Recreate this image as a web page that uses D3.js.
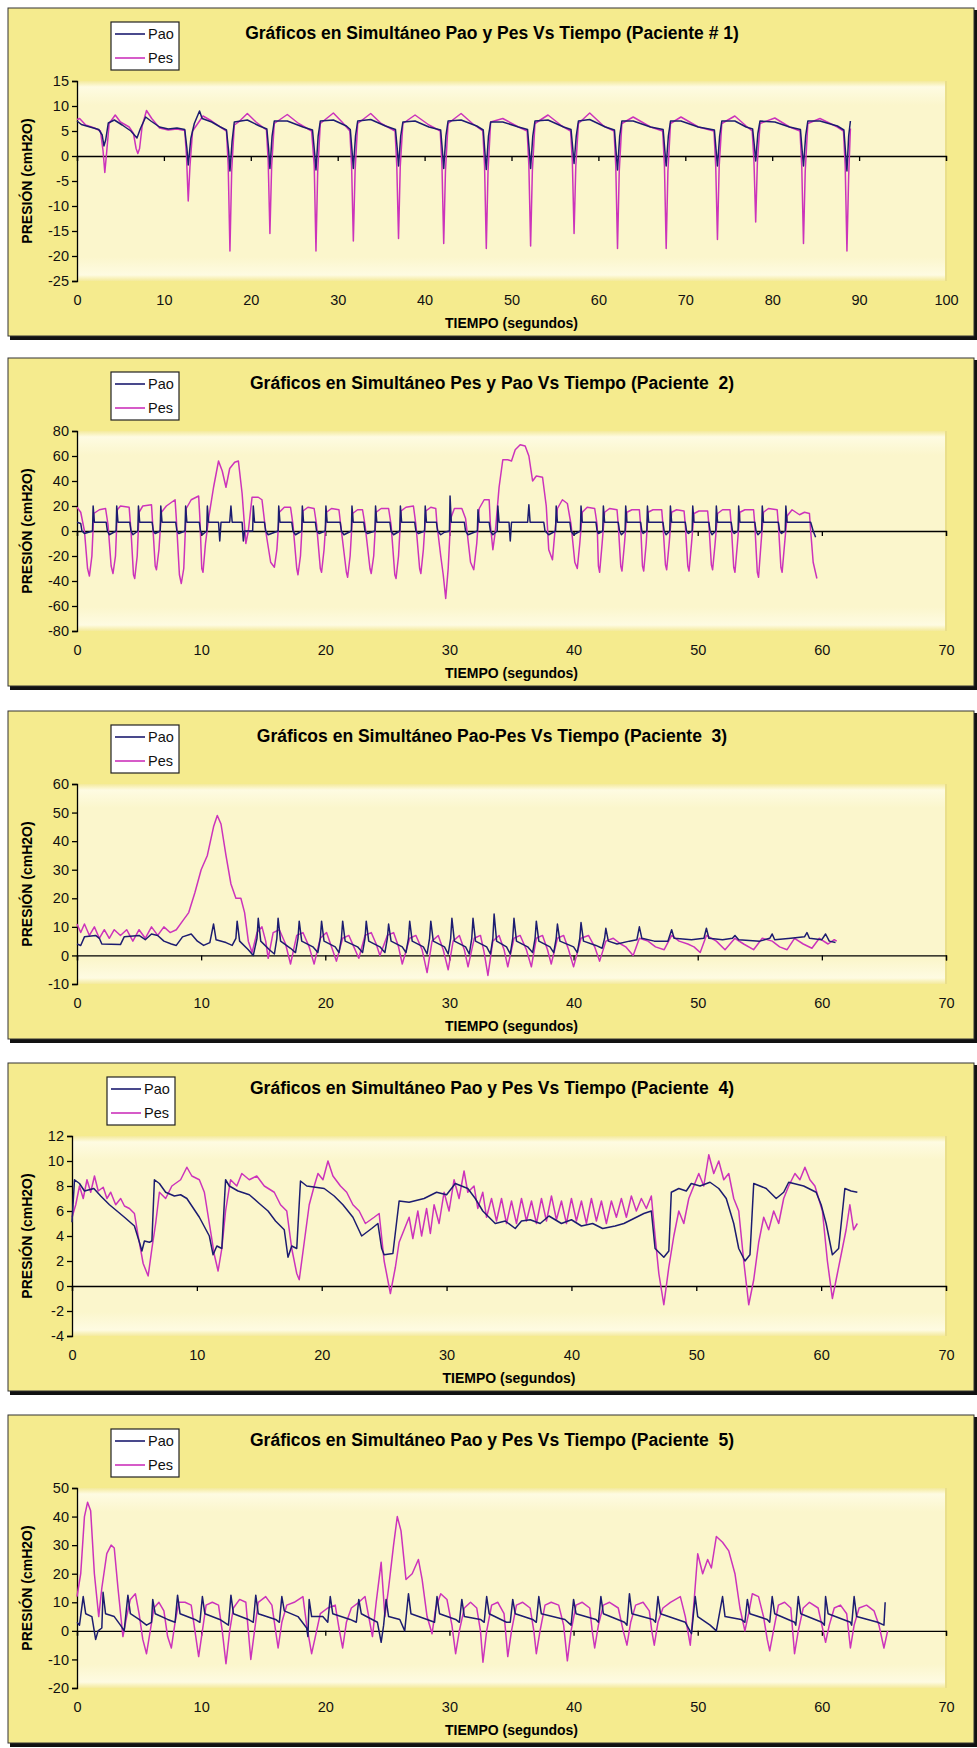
<!DOCTYPE html>
<html>
<head>
<meta charset="utf-8">
<script src="https://cdn.jsdelivr.net/npm/d3@7"></script>
<style>
  body { margin: 0; background: #fff; }
  text { font-family: "Liberation Sans", Arial, sans-serif; }
</style>
</head>
<body>
<div id="content"></div>
<script>
// ---- data: [tiempo (s), presión (cmH2O)] ----
var p1Pao = [[0,7],[0.5,6.3],[1.5,5.8],[2.5,5.3],[2.9,4.2],[3.1,2.0],[3.3,3.2],[3.6,6.6],[4.3,7.2],[5.2,6.2],[6.2,5.0],[6.7,4.0],[6.9,3.6],[7.3,5.5],[7.9,7.8],[8.5,7.0],[9.5,5.8],[10.5,5.4],[11.5,5.6],[12.4,5.3],[12.65,1.5],[12.8,-1.8],[13.1,3.5],[13.5,6.5],[14.1,9.0],[14.4,7.5],[15.5,6.8],[16.5,5.8],[17.2,5.2],[17.45,1.0],[17.6,-3.0],[17.85,3.0],[18.1,6.8],[19.6,7.2],[21.0,6.0],[21.85,5.4],[22.05,1.5],[22.2,-2.5],[22.45,4.0],[22.7,7.0],[24.2,7.0],[26.0,5.8],[27.1,5.2],[27.35,0.5],[27.5,-2.8],[27.75,4.0],[28.0,7.0],[29.5,7.2],[31.0,6.0],[31.45,5.3],[31.65,1.0],[31.8,-2.5],[32.05,4.0],[32.3,7.0],[33.8,7.3],[35.5,6.0],[36.65,5.3],[36.85,1.5],[37.0,-2.0],[37.25,4.0],[37.5,6.8],[38.9,7.0],[40.5,5.8],[41.85,5.2],[42.05,1.0],[42.2,-2.5],[42.45,4.0],[42.7,7.0],[44.2,7.2],[46.0,6.0],[46.75,5.2],[46.95,0.5],[47.1,-2.7],[47.35,4.0],[47.6,6.8],[49.0,6.8],[50.8,5.8],[51.85,5.3],[52.05,1.0],[52.2,-2.5],[52.45,4.0],[52.7,7.0],[54.2,7.2],[56.0,5.8],[56.85,5.3],[57.05,1.5],[57.2,-1.5],[57.45,4.0],[57.7,7.0],[59.0,7.3],[60.8,5.8],[61.85,5.2],[62.05,0.5],[62.2,-2.8],[62.45,4.0],[62.7,7.0],[64.0,7.0],[66.0,5.8],[67.45,5.3],[67.65,1.0],[67.8,-2.0],[68.05,4.0],[68.3,7.0],[69.5,7.0],[71.5,5.8],[73.35,5.2],[73.55,1.0],[73.7,-2.0],[73.95,4.0],[74.2,7.0],[75.7,7.0],[77.0,5.8],[77.75,5.4],[77.95,2.0],[78.1,-1.0],[78.35,4.5],[78.6,7.0],[80.3,6.8],[82.0,5.8],[83.25,5.3],[83.45,1.0],[83.6,-2.0],[83.85,4.0],[84.1,7.0],[85.5,7.0],[87.5,6.0],[88.25,5.2],[88.45,0.5],[88.6,-3.0],[88.8,4.0],[89.0,7.0]];
var p1Pes = [[0,7.3],[0.3,7.5],[1.0,6.2],[2.0,5.6],[2.7,5.0],[3.0,1.0],[3.2,-3.3],[3.4,0.5],[3.7,6.5],[4.4,8.2],[5.0,6.8],[6.0,5.8],[6.5,4.5],[6.8,1.5],[7.0,0.5],[7.2,1.5],[7.5,6.0],[8.0,9.1],[8.6,7.5],[9.5,5.6],[10.5,5.2],[11.5,5.4],[12.4,5.1],[12.6,0.0],[12.8,-9.0],[13.0,-2.0],[13.3,5.0],[14.5,8.0],[15.5,7.0],[16.5,5.8],[17.2,5.0],[17.4,-2.0],[17.6,-19.0],[17.8,-3.0],[18.1,6.2],[18.6,6.8],[19.6,8.5],[20.6,6.8],[21.8,5.2],[22.0,-1.0],[22.2,-15.5],[22.4,-2.0],[22.7,6.5],[24.2,8.3],[25.5,6.5],[27.0,5.0],[27.3,-2.0],[27.5,-19.0],[27.7,-3.0],[28.0,6.5],[29.5,8.6],[30.5,6.8],[31.4,5.0],[31.6,-2.0],[31.8,-17.0],[32.0,-3.0],[32.3,6.5],[33.8,8.5],[35.0,6.5],[36.6,5.0],[36.8,-2.0],[37.0,-16.5],[37.2,-2.0],[37.5,6.5],[38.9,8.2],[40.5,6.2],[41.8,5.0],[42.0,-2.0],[42.2,-17.5],[42.4,-3.0],[42.7,6.5],[44.2,8.5],[45.5,6.5],[46.7,5.0],[46.9,-2.0],[47.1,-18.5],[47.3,-3.0],[47.6,6.8],[49.0,7.5],[50.8,5.8],[51.8,5.0],[52.0,-2.0],[52.2,-18.0],[52.4,-3.0],[52.7,6.5],[54.2,8.2],[55.8,6.0],[56.8,5.0],[57.0,-1.0],[57.2,-15.5],[57.4,-2.0],[57.7,6.5],[59.0,8.6],[60.6,6.0],[61.8,5.0],[62.0,-2.0],[62.2,-18.5],[62.4,-3.0],[62.7,6.5],[64.0,7.8],[66.0,5.8],[67.4,5.0],[67.6,-2.0],[67.8,-18.5],[68.0,-3.0],[68.3,6.5],[69.5,7.8],[71.5,5.8],[73.3,5.0],[73.5,-2.0],[73.7,-16.7],[73.9,-2.0],[74.2,6.5],[75.7,8.0],[77.0,6.0],[77.7,5.0],[77.9,-1.0],[78.1,-13.2],[78.3,-1.0],[78.6,6.5],[80.3,7.6],[82.0,5.8],[83.2,5.0],[83.4,-2.0],[83.6,-17.5],[83.8,-3.0],[84.1,6.5],[85.5,7.5],[87.5,5.8],[88.2,5.0],[88.4,-2.0],[88.6,-19.0],[88.8,-4.0],[89.0,5.5]];

var p2Pao = [[0,7],[0.3,6],[0.4,0],[0.6,-2],[1.25,0],[1.3,20],[1.4,7],[2.35,7],[2.45,0],[2.6,-3],[3.15,0],[3.2,20],[3.3,7],[4.25,7],[4.35,0],[4.5,-3],[4.9,0],[4.95,20],[5.05,7],[6.05,7],[6.15,0],[6.3,-2],[6.7,0],[6.75,20],[6.85,7],[7.95,7],[8.05,0],[8.2,-2],[8.7,0],[8.75,20],[8.85,7],[9.85,7],[9.95,0],[10.1,-3],[10.45,0],[10.5,20],[10.6,7],[11.4,7],[11.5,-8],[11.6,7],[12.3,7],[12.4,20],[12.5,7],[13.3,7],[13.4,-8],[13.5,0],[14.15,0],[14.2,20],[14.3,7],[15.1,7],[15.2,0],[15.4,-3],[16.2,0],[16.25,20],[16.35,7],[17.3,7],[17.4,0],[17.6,-3],[18.1,0],[18.15,20],[18.25,7],[19.2,7],[19.3,0],[19.5,-2],[20.0,0],[20.05,20],[20.15,7],[21.2,7],[21.3,0],[21.5,-3],[22.1,0],[22.15,20],[22.25,7],[23.1,7],[23.2,0],[23.4,-2],[24.0,0],[24.05,20],[24.15,7],[25.2,7],[25.3,0],[25.5,-3],[26.0,0],[26.05,20],[26.15,7],[27.2,7],[27.3,0],[27.5,-2],[28.0,0],[28.05,20],[28.15,7],[28.95,7],[29.05,0],[29.3,-3],[29.6,-1],[30.0,0],[30.05,28],[30.15,7],[31.2,7],[31.3,0],[31.5,-3],[32.25,0],[32.3,17],[32.4,7],[33.2,7],[33.3,0],[33.5,-3],[33.85,0],[33.9,20],[34.0,7],[34.8,7],[34.9,-8],[35.0,7],[36.3,7],[36.4,21],[36.5,7],[37.6,7],[37.7,0],[38.0,-3],[38.55,0],[38.6,20],[38.7,7],[39.7,7],[39.8,0],[40.0,-3],[40.55,0],[40.6,20],[40.7,7],[41.8,7],[41.9,0],[42.0,-2],[42.35,0],[42.4,20],[42.5,7],[43.6,7],[43.7,0],[43.85,-3],[44.15,0],[44.2,20],[44.3,7],[45.4,7],[45.5,0],[45.6,-2],[45.9,0],[45.95,20],[46.05,7],[47.2,7],[47.3,0],[47.45,-3],[47.75,0],[47.8,20],[47.9,7],[49.0,7],[49.1,0],[49.25,-2],[49.55,0],[49.6,20],[49.7,7],[50.9,7],[51.0,0],[51.15,-3],[51.45,0],[51.5,20],[51.6,7],[52.7,7],[52.8,0],[52.95,-2],[53.25,0],[53.3,20],[53.4,7],[54.6,7],[54.7,0],[54.85,-3],[55.15,0],[55.2,20],[55.3,7],[56.5,7],[56.6,0],[56.75,-2],[57.05,0],[57.1,20],[57.2,7],[59.1,7],[59.3,0],[59.5,-5]];
var p2Pes = [[0,19],[0.3,15],[0.6,0],[0.85,-30],[1.0,-36],[1.2,-20],[1.35,14],[1.8,17],[2.3,18],[2.5,5],[2.75,-28],[2.9,-34],[3.1,-20],[3.25,17],[3.5,20],[4.2,19],[4.35,0],[4.55,-35],[4.65,-38],[4.85,-20],[5.0,15],[5.3,20],[6.0,21],[6.1,5],[6.3,-28],[6.4,-31],[6.6,-15],[6.8,15],[7.2,20],[7.9,25],[8.0,10],[8.25,-35],[8.4,-42],[8.6,-30],[8.8,18],[9.2,25],[9.8,28],[9.9,10],[10.05,-30],[10.15,-33],[10.35,-10],[10.6,10],[11.0,35],[11.4,56],[11.7,48],[12.0,35],[12.3,50],[12.7,55],[13.0,56],[13.3,30],[13.6,-10],[13.8,0],[14.1,27],[14.6,27],[14.9,25],[15.2,0],[15.6,-25],[15.9,-29],[16.1,-15],[16.3,15],[16.7,19],[17.2,19],[17.4,5],[17.7,-30],[17.8,-35],[18.0,-20],[18.2,16],[18.6,19],[19.1,18],[19.3,5],[19.6,-30],[19.7,-33],[19.9,-15],[20.1,15],[20.5,18],[21.1,17],[21.3,0],[21.7,-33],[21.8,-37],[22.0,-20],[22.2,14],[22.6,17],[23.0,17],[23.2,5],[23.6,-30],[23.7,-34],[23.9,-20],[24.1,15],[24.5,18],[25.1,18],[25.3,5],[25.6,-35],[25.7,-38],[25.9,-20],[26.1,16],[26.5,19],[27.1,20],[27.3,5],[27.6,-30],[27.7,-34],[27.9,-15],[28.1,16],[28.5,19],[28.9,18],[29.0,5],[29.3,-20],[29.5,-35],[29.7,-54],[29.9,-30],[30.1,10],[30.4,18],[31.0,18],[31.3,10],[31.7,-25],[31.96,-31],[32.2,-10],[32.4,18],[32.8,25],[33.2,25],[33.3,5],[33.5,-15],[33.7,0],[34.0,35],[34.3,57],[34.7,57],[35.0,56],[35.3,65],[35.7,69],[36.1,68],[36.4,60],[36.7,40],[37.0,44],[37.5,43],[37.8,20],[38.0,-15],[38.3,-23],[38.5,0],[38.7,18],[39.1,25],[39.5,22],[39.8,5],[40.1,-25],[40.3,-30],[40.5,-10],[40.7,15],[41.1,19],[41.7,18],[41.9,5],[42.0,-28],[42.1,-33],[42.3,-10],[42.5,15],[42.9,18],[43.5,17],[43.6,5],[43.8,-28],[43.9,-32],[44.1,-10],[44.3,15],[44.7,17],[45.3,17],[45.4,5],[45.55,-28],[45.65,-32],[45.85,-10],[46.0,15],[46.4,17],[47.1,17],[47.2,5],[47.4,-27],[47.5,-31],[47.7,-10],[47.9,15],[48.3,17],[48.9,16],[49.0,5],[49.2,-28],[49.3,-32],[49.5,-10],[49.7,14],[50.1,16],[50.8,16],[50.9,5],[51.1,-27],[51.2,-31],[51.4,-10],[51.6,14],[52.0,17],[52.6,17],[52.7,5],[52.9,-29],[53.0,-33],[53.2,-10],[53.4,15],[53.8,17],[54.5,17],[54.6,5],[54.8,-33],[54.9,-37],[55.1,-10],[55.3,15],[55.7,18],[56.4,17],[56.5,5],[56.7,-29],[56.8,-33],[57.0,-10],[57.2,12],[57.6,17],[58.2,13],[58.6,15],[59.0,14],[59.1,0],[59.3,-25],[59.6,-38]];

var p3Pao = [[0,4],[0.3,3.5],[0.6,6.5],[1.5,7],[1.8,6],[2.0,4],[3.5,3.8],[3.8,6.5],[5.0,7],[5.5,5.5],[6.0,7.5],[6.5,7],[7.0,5],[7.6,4],[8.0,3.5],[8.5,6.5],[9.2,7.5],[9.7,5],[10.2,3.5],[10.7,4.5],[11.0,11],[11.2,5.5],[12.0,4.5],[12.5,3.5],[12.8,6],[12.9,12],[13.1,5],[13.8,2],[14.2,0],[14.5,6],[14.6,13],[14.8,5],[15.5,2],[15.9,0.5],[16.1,6],[16.2,13],[16.4,5],[17.2,2.5],[17.6,1],[17.8,6],[17.9,12],[18.1,5],[19.0,3],[19.4,1],[19.6,6],[19.7,12],[19.9,5],[20.8,3],[21.1,1],[21.3,6],[21.4,12],[21.6,5],[22.6,3],[23.0,1],[23.2,6],[23.3,12],[23.5,5],[24.4,3],[24.8,1],[25.0,6],[25.1,11],[25.3,5],[26.2,3],[26.5,1],[26.7,6],[26.8,12],[27.0,5],[27.9,3],[28.2,0.5],[28.4,6],[28.5,12],[28.7,5],[29.6,3],[29.9,0.5],[30.1,6],[30.2,13],[30.4,5],[31.3,3],[31.6,0.5],[31.8,6],[31.9,13],[32.1,5],[33.0,3],[33.3,0.5],[33.5,6],[33.6,14.5],[33.8,5],[34.6,3],[34.9,0.5],[35.1,6],[35.2,13],[35.4,5],[36.3,3],[36.7,1],[36.9,6],[37.0,12],[37.2,5],[38.1,3],[38.4,1],[38.6,6],[38.7,11],[38.9,5],[40.0,3],[40.3,1],[40.5,6],[40.6,11.5],[40.8,5],[41.8,3.5],[42.3,2.5],[42.5,6],[42.6,9.5],[42.8,5],[43.5,4],[44.5,5],[45.1,5.5],[45.3,10],[45.5,6],[46.5,5],[47.6,5],[47.9,9],[48.1,6],[49.5,5.5],[50.5,6],[50.7,9.5],[50.9,6],[52.0,5.5],[52.8,6],[53.0,7],[53.3,5.5],[55.0,5],[55.8,6],[56.0,7.5],[56.2,5.5],[57.5,6],[58.6,6.5],[58.8,8],[59.0,6],[60.0,5.5],[60.3,7.5],[60.6,5],[61.1,4.5]];
var p3Pes = [[0,11],[0.3,8],[0.6,11],[1.0,7],[1.4,10],[1.8,6],[2.2,9],[2.6,6],[3.0,9],[3.5,7],[4.0,9],[4.5,5],[5.0,9],[5.5,6],[6.0,10],[6.5,7],[7.0,10],[7.5,8],[8.0,9],[8.5,12],[9.0,15],[9.5,22],[10.0,30],[10.5,35],[11.0,45],[11.3,49],[11.6,46],[12.0,35],[12.4,25],[12.8,20],[13.2,20],[13.5,15],[13.8,5],[14.1,1],[14.5,8],[14.9,10],[15.2,5],[15.4,-1],[15.8,8],[16.3,9],[16.8,4],[17.2,-3],[17.7,7],[18.2,8],[18.7,3],[19.1,-3],[19.6,6],[20.1,8],[20.5,3],[20.9,-2],[21.4,6],[21.9,7],[22.3,3],[22.7,-1],[23.2,7],[23.7,8],[24.1,4],[24.4,0],[25.0,7],[25.5,8],[25.9,3],[26.2,-3],[26.8,6],[27.3,7],[27.8,2],[28.2,-6],[28.6,5],[29.1,7],[29.5,2],[29.9,-5],[30.3,5],[30.8,7],[31.2,2],[31.5,-4],[32.0,6],[32.5,7],[32.8,1],[33.1,-7],[33.5,5],[34.0,7],[34.4,2],[34.7,-4],[35.2,6],[35.7,7],[36.2,2],[36.6,-4],[37.0,6],[37.5,7],[37.9,2],[38.2,-3],[38.7,6],[39.2,7],[39.6,2],[40.0,-4],[40.6,6],[41.2,7],[41.7,3],[42.1,-2],[42.6,5],[43.2,6],[43.8,4],[44.2,3],[44.8,0],[45.3,6],[46.0,5],[46.6,3],[47.3,2],[47.9,7],[48.5,5],[49.2,4],[49.7,3],[50.2,1],[50.7,7],[51.5,5],[52.2,2],[53.0,6],[53.7,4],[54.5,2],[55.2,6],[56.0,5],[56.6,3],[57.2,2],[57.8,6],[58.5,4],[59.2,2.5],[59.8,6],[60.5,4],[61.0,5.5],[61.2,5]];

var p4Pao = [[0,5.1],[0.2,8.5],[0.6,8.2],[1.0,7.6],[1.75,7.8],[2.3,7.2],[3.0,6.5],[3.6,6.0],[4.2,5.5],[5.0,4.8],[5.4,3.5],[5.6,2.8],[5.8,3.6],[6.2,3.5],[6.4,3.6],[6.6,8.5],[7.0,8.2],[7.5,7.5],[8.2,7.2],[8.7,7.3],[9.2,7.0],[10.2,5.5],[11.0,4.0],[11.3,2.5],[11.6,3.2],[12.0,3.0],[12.3,8.5],[12.6,8.0],[13.3,7.6],[14.2,7.3],[15.0,6.6],[15.7,6.0],[16.3,5.2],[17.0,4.5],[17.3,2.3],[17.6,3.2],[18.0,3.0],[18.3,8.4],[18.8,8.0],[20.2,7.8],[21.0,7.2],[21.7,6.5],[22.5,5.5],[23.2,4.0],[24.0,4.6],[24.5,5.0],[24.8,3.0],[25.0,2.5],[25.7,2.6],[26.2,6.8],[27.0,6.7],[28.2,7.0],[29.2,7.5],[30.0,7.3],[30.7,8.2],[31.7,7.8],[32.3,7.0],[32.9,6.0],[33.9,5.0],[34.7,5.2],[35.5,4.6],[36.0,5.2],[36.7,5.3],[37.5,5.0],[38.2,5.6],[39.2,5.0],[40.0,5.3],[40.8,4.8],[41.7,5.0],[42.5,4.6],[43.5,4.8],[44.2,5.0],[45.0,5.4],[45.8,5.8],[46.4,6.0],[46.7,3.0],[47.4,2.3],[47.8,2.8],[48.0,7.5],[48.6,7.8],[49.2,7.6],[49.6,8.2],[50.3,8.0],[51.1,8.3],[51.8,7.8],[52.4,7.0],[53.0,5.0],[53.4,3.0],[53.9,2.0],[54.3,2.5],[54.6,8.2],[55.6,7.8],[56.4,7.0],[57.0,7.5],[57.4,8.3],[58.6,8.0],[59.6,7.5],[60.0,6.5],[60.4,5.0],[60.9,2.5],[61.4,3.0],[61.9,7.8],[62.4,7.6],[62.9,7.5]];
var p4Pes = [[0,5.5],[0.3,6.5],[0.6,8.0],[0.9,7.0],[1.2,8.5],[1.5,7.5],[1.8,8.8],[2.1,7.6],[2.5,7.9],[2.8,7.0],[3.1,7.5],[3.5,6.5],[3.9,7.0],[4.2,6.4],[4.6,6.2],[5.0,5.8],[5.3,4.0],[5.7,1.8],[6.1,0.8],[6.4,3.0],[6.7,5.0],[7.0,7.5],[7.5,7.0],[8.0,8.0],[8.7,8.5],[9.2,9.5],[9.6,8.8],[10.2,8.5],[10.6,7.5],[11.0,5.0],[11.4,2.5],[11.7,1.2],[12.0,3.0],[12.3,6.0],[12.7,8.5],[13.2,8.0],[13.6,9.0],[14.2,8.5],[14.8,8.8],[15.4,8.0],[16.2,7.5],[16.7,6.5],[17.2,6.0],[17.6,3.0],[18.0,1.0],[18.2,0.5],[18.6,3.5],[19.0,6.5],[19.4,8.0],[19.7,9.0],[20.1,8.5],[20.5,10.0],[20.9,8.8],[21.5,8.0],[22.0,7.5],[22.5,6.5],[23.0,6.0],[23.5,5.0],[24.2,5.5],[24.6,5.8],[25.0,2.0],[25.5,-0.6],[25.9,1.5],[26.2,3.5],[26.6,4.5],[27.0,5.5],[27.3,3.8],[27.7,6.0],[28.0,4.0],[28.4,6.2],[28.7,4.2],[29.0,6.5],[29.4,5.0],[29.8,7.5],[30.2,6.0],[30.6,8.5],[31.0,7.0],[31.4,9.2],[31.7,7.5],[32.2,8.0],[32.5,6.2],[32.9,7.5],[33.2,5.5],[33.6,7.0],[34.0,5.2],[34.4,7.0],[34.8,5.0],[35.2,6.8],[35.6,5.0],[36.0,7.0],[36.4,5.2],[36.8,6.8],[37.2,5.0],[37.6,7.0],[38.0,5.2],[38.4,7.2],[38.8,5.3],[39.2,6.8],[39.6,5.0],[40.0,7.0],[40.4,5.2],[40.8,6.8],[41.2,5.0],[41.6,7.0],[42.0,5.2],[42.4,6.8],[42.8,5.0],[43.2,6.8],[43.6,5.5],[44.0,7.0],[44.4,5.5],[44.8,7.2],[45.2,6.0],[45.6,7.0],[46.0,6.2],[46.4,7.2],[46.7,4.0],[47.0,1.0],[47.4,-1.5],[47.8,1.5],[48.2,4.0],[48.6,6.0],[49.0,5.0],[49.4,7.0],[49.8,8.0],[50.2,9.0],[50.6,8.0],[51.0,10.5],[51.4,9.0],[51.8,10.0],[52.2,8.5],[52.6,9.0],[53.0,7.0],[53.4,6.0],[53.8,2.0],[54.2,-1.5],[54.6,0.5],[55.0,3.5],[55.4,5.5],[55.8,4.5],[56.2,6.0],[56.6,5.0],[57.0,7.0],[57.4,8.0],[57.9,9.0],[58.3,8.5],[58.7,9.5],[59.1,8.5],[59.5,8.0],[59.8,7.0],[60.1,6.0],[60.5,2.0],[60.9,-1.0],[61.3,1.0],[61.7,3.0],[62.0,4.5],[62.3,6.5],[62.6,4.5],[62.9,5.0]];

var p5Pao = [[0,3],[0.2,2],[0.5,12],[0.7,6],[1.2,5],[1.5,-3],[1.7,0],[2.0,1],[2.1,13.5],[2.3,6],[3.0,5],[3.5,2],[3.8,0],[4.1,12.5],[4.3,6],[5.0,4],[5.6,2],[6.0,3],[6.1,11],[6.3,6],[7.3,4],[7.9,3],[8.1,12.5],[8.3,6],[9.5,4],[9.9,3],[10.1,12],[10.3,6],[11.5,4],[12.2,2],[12.4,12.5],[12.6,6],[13.8,4],[14.2,3],[14.4,12.5],[14.6,6],[16.0,4],[16.3,3],[16.5,12],[16.7,7],[17.8,5],[18.5,1],[18.6,-2],[18.7,11],[18.9,5],[19.8,5],[20.2,3],[20.4,12],[20.6,6],[22.0,4],[22.5,3],[22.7,11],[22.9,6],[24.2,3],[24.5,-4],[24.7,2],[24.9,11],[25.1,5],[26.0,4],[26.4,0],[26.7,13],[26.9,6],[28.2,4],[28.8,3],[29.0,12],[29.2,6],[30.5,4],[30.8,3],[31.0,11],[31.2,5],[32.5,4],[32.8,3],[33.0,12],[33.2,6],[34.6,3],[34.9,3],[35.1,11],[35.3,6],[36.7,4],[37.0,3],[37.2,12],[37.4,6],[39.3,4],[39.8,2],[40.0,11],[40.2,6],[41.8,4],[42.0,3],[42.2,12],[42.4,6],[44.1,3],[44.3,2],[44.5,13],[44.7,6],[46.4,4],[46.6,3],[46.8,12],[47.0,6],[49.0,3],[49.5,-1],[49.8,12],[50.0,5],[51.0,2],[51.5,0],[52.0,12],[52.2,5],[53.5,4],[53.8,3],[54.0,11],[54.2,6],[55.6,4],[55.8,3],[56.0,12],[56.2,6],[57.8,3],[57.9,2],[58.1,12],[58.3,6],[60.0,3],[60.2,2],[60.3,12],[60.5,6],[62.3,3],[62.4,2],[62.6,12],[62.8,5],[64.5,3],[65.0,2],[65.1,10]];
var p5Pes = [[0,12],[0.3,20],[0.6,40],[0.85,45],[1.1,42],[1.4,20],[1.75,5],[2.0,15],[2.4,27],[2.75,30],[3.0,29],[3.3,15],[3.7,-2],[4.0,5],[4.3,11],[4.7,13],[5.0,6],[5.3,-3],[5.6,-8],[5.9,0],[6.2,8],[6.6,10],[7.0,7],[7.3,-2],[7.6,-6],[7.9,3],[8.2,10],[8.7,10],[9.2,9],[9.5,0],[9.8,-9],[10.1,0],[10.4,9],[10.9,10],[11.4,9],[11.7,0],[12.0,-11.5],[12.3,0],[12.6,8],[13.1,11],[13.6,10],[13.8,0],[14.0,-10],[14.3,0],[14.6,10],[15.2,12],[15.7,9],[16.0,0],[16.2,-6],[16.5,3],[16.9,9],[17.5,10],[18.2,12],[18.5,2],[18.9,-8],[19.2,-2],[19.6,6],[20.2,8],[20.8,9],[21.1,1],[21.4,-6],[21.7,3],[22.1,8],[22.7,10],[23.2,12],[23.5,5],[23.8,-2],[24.1,10],[24.5,24],[24.8,5],[25.1,15],[25.5,30],[25.8,40],[26.1,35],[26.5,18],[27.0,20],[27.5,25],[27.8,18],[28.2,5],[28.6,-1],[28.9,8],[29.3,13],[29.8,11],[30.2,2],[30.5,-8],[30.8,0],[31.2,8],[31.7,10],[32.2,8],[32.5,0],[32.7,-11],[33.0,0],[33.4,9],[33.9,10],[34.4,6],[34.7,-9],[35.0,0],[35.4,9],[35.9,10],[36.5,8],[36.8,0],[37.0,-8],[37.3,0],[37.7,9],[38.2,10],[38.8,9],[39.2,2],[39.5,-10.5],[39.8,0],[40.2,9],[40.7,10],[41.3,8],[41.5,0],[41.7,-6],[42.0,2],[42.4,9],[42.9,10],[43.6,8],[44.0,0],[44.3,-5],[44.6,3],[45.0,9],[45.6,10],[46.1,7],[46.3,0],[46.5,-5],[46.8,3],[47.2,8],[47.8,10],[48.6,12],[49.0,5],[49.4,-5],[49.7,10],[50.0,27],[50.4,20],[50.8,25],[51.1,22],[51.5,33],[52.0,31],[52.5,28],[53.0,20],[53.4,8],[53.8,0],[54.1,6],[54.4,13],[54.9,12],[55.3,5],[55.6,-3],[55.8,-7],[56.1,0],[56.5,9],[57.0,10],[57.5,8],[57.8,-8],[58.1,0],[58.5,8],[59.0,10],[59.7,8],[60.0,2],[60.3,-4],[60.6,2],[61.0,8],[61.5,9],[62.0,6],[62.3,-6],[62.6,2],[63.0,8],[63.6,9],[64.2,7],[64.6,2],[65.0,-6],[65.3,0]];

var titles = [
  'Gráficos en Simultáneo Pao y Pes Vs Tiempo (Paciente # 1)',
  'Gráficos en Simultáneo Pes y Pao Vs Tiempo (Paciente  2)',
  'Gráficos en Simultáneo Pao-Pes Vs Tiempo (Paciente  3)',
  'Gráficos en Simultáneo Pao y Pes Vs Tiempo (Paciente  4)',
  'Gráficos en Simultáneo Pao y Pes Vs Tiempo (Paciente  5)'
];
var xMaxes = [100, 70, 70, 70, 70];
var yDomains = [[-25, 15], [-80, 80], [-10, 60], [-4, 12], [-20, 50]];
var yStep = [5, 20, 10, 2, 10];
var seriesNames = ['Pao', 'Pes'];

// ---- layout ----
var W = 977, H = 1748;
var tops = [8, 358, 711, 1063, 1415];
var plotLefts = [77, 77, 77, 72, 77];
var plotRight = 946;
var colPao = '#1c1c70', colPes = '#cc33bb';

var svg = d3.select('#content')
    .append('svg')
    .attr('width', W)
    .attr('height', H);

var defs = svg.append('defs');
var grad = defs.append('linearGradient')
    .attr('id', 'plotbg')
    .attr('x1', 0).attr('y1', 0).attr('x2', 0).attr('y2', 1);
grad.append('stop').attr('offset', '0%').attr('stop-color', '#f4ea9c');
grad.append('stop').attr('offset', '3%').attr('stop-color', '#fefbe2');
grad.append('stop').attr('offset', '12%').attr('stop-color', '#fbf6cc');
grad.append('stop').attr('offset', '88%').attr('stop-color', '#fbf6cc');
grad.append('stop').attr('offset', '97%').attr('stop-color', '#fefbe2');
grad.append('stop').attr('offset', '100%').attr('stop-color', '#f4ea9c');

var panelData = [[p1Pao, p1Pes], [p2Pao, p2Pes], [p3Pao, p3Pes], [p4Pao, p4Pes], [p5Pao, p5Pes]];

panelData.forEach(function (series, i) {
    var T = tops[i];
    var g = svg.append('g').attr('transform', 'translate(0,' + T + ')');
    var left = plotLefts[i];

    // chart area with a dark shadow like Excel
    g.append('rect').attr('x', 10).attr('y', 2).attr('width', 967).attr('height', 330).attr('fill', '#111');
    g.append('rect').attr('x', 8).attr('y', 0).attr('width', 966).attr('height', 328)
        .attr('fill', '#f5eb8e').attr('stroke', '#333').attr('stroke-width', 1);

    var x = d3.scaleLinear().domain([0, xMaxes[i]]).range([left, plotRight]);
    var y = d3.scaleLinear().domain(yDomains[i]).range([273, 73]);

    // plot area
    g.append('rect')
        .attr('x', left).attr('y', 73)
        .attr('width', plotRight - left).attr('height', 200)
        .attr('fill', 'url(#plotbg)');
    g.append('line')
        .attr('x1', plotRight).attr('x2', plotRight).attr('y1', 73).attr('y2', 273)
        .attr('stroke', '#eadf8a').attr('stroke-width', 2);

    var yTicks = d3.range(yDomains[i][0], yDomains[i][1] + 0.001, yStep[i]);
    var xTicks = d3.range(0, xMaxes[i] + 0.001, 10);

    // y axis
    var yAxis = g.append('g')
        .attr('transform', 'translate(' + left + ',0)')
        .call(d3.axisLeft(y).tickValues(yTicks).tickSize(5).tickPadding(3).tickFormat(function (d) { return String(d); }));
    yAxis.select('.domain').attr('stroke', '#000').attr('stroke-width', 1.3);
    yAxis.selectAll('.tick line').attr('stroke', '#000').attr('stroke-width', 1.3);
    yAxis.selectAll('.tick text').attr('font-size', 14.5).attr('fill', '#111');

    // x axis across zero, ticks pointing down
    var xAxis = g.append('g')
        .attr('transform', 'translate(0,' + y(0) + ')')
        .call(d3.axisBottom(x).tickValues(xTicks).tickSize(5).tickFormat(''));
    xAxis.select('.domain').attr('stroke', '#000').attr('stroke-width', 1.3);
    xAxis.selectAll('.tick line').attr('stroke', '#000').attr('stroke-width', 1.3);

    // x tick labels at the bottom of the plot area
    var xLab = g.append('g')
        .attr('transform', 'translate(0,273)')
        .call(d3.axisBottom(x).tickValues(xTicks).tickSize(0).tickPadding(14).tickFormat(function (d) { return String(d); }));
    xLab.select('.domain').remove();
    xLab.selectAll('.tick text').attr('font-size', 14.5).attr('fill', '#111');

    // series
    var line = d3.line().x(function (d) { return x(d[0]); }).y(function (d) { return y(d[1]); });
    g.append('path').datum(series[1]).attr('d', line)
        .attr('fill', 'none').attr('stroke', colPes).attr('stroke-width', 1.5).attr('stroke-linejoin', 'round');
    g.append('path').datum(series[0]).attr('d', line)
        .attr('fill', 'none').attr('stroke', colPao).attr('stroke-width', 1.5).attr('stroke-linejoin', 'round');

    // title
    g.append('text')
        .attr('x', 492).attr('y', 31)
        .attr('text-anchor', 'middle')
        .attr('font-size', 17.5).attr('font-weight', 'bold')
        .style('white-space', 'pre')
        .text(titles[i]);

    // axis titles
    g.append('text')
        .attr('x', (left + plotRight) / 2).attr('y', 320)
        .attr('text-anchor', 'middle')
        .attr('font-size', 14).attr('font-weight', 'bold')
        .text('TIEMPO (segundos)');
    g.append('text')
        .attr('transform', 'translate(32,173) rotate(-90)')
        .attr('text-anchor', 'middle')
        .attr('font-size', 14).attr('font-weight', 'bold')
        .text('PRESIÓN (cmH2O)');

    // legend
    var lx = i === 3 ? 107 : 111;
    var leg = g.append('g').attr('transform', 'translate(' + lx + ',14)');
    leg.append('rect').attr('width', 68).attr('height', 48)
        .attr('fill', '#fff').attr('stroke', '#222').attr('stroke-width', 1.2);
    seriesNames.forEach(function (name, k) {
        var ly = 12 + k * 24;
        leg.append('line').attr('x1', 4).attr('x2', 34).attr('y1', ly).attr('y2', ly)
            .attr('stroke', k === 0 ? colPao : colPes).attr('stroke-width', 1.6);
        leg.append('text').attr('x', 37).attr('y', ly + 5)
            .attr('font-size', 14.5).attr('fill', '#111').text(name);
    });
});
</script>
</body>
</html>
